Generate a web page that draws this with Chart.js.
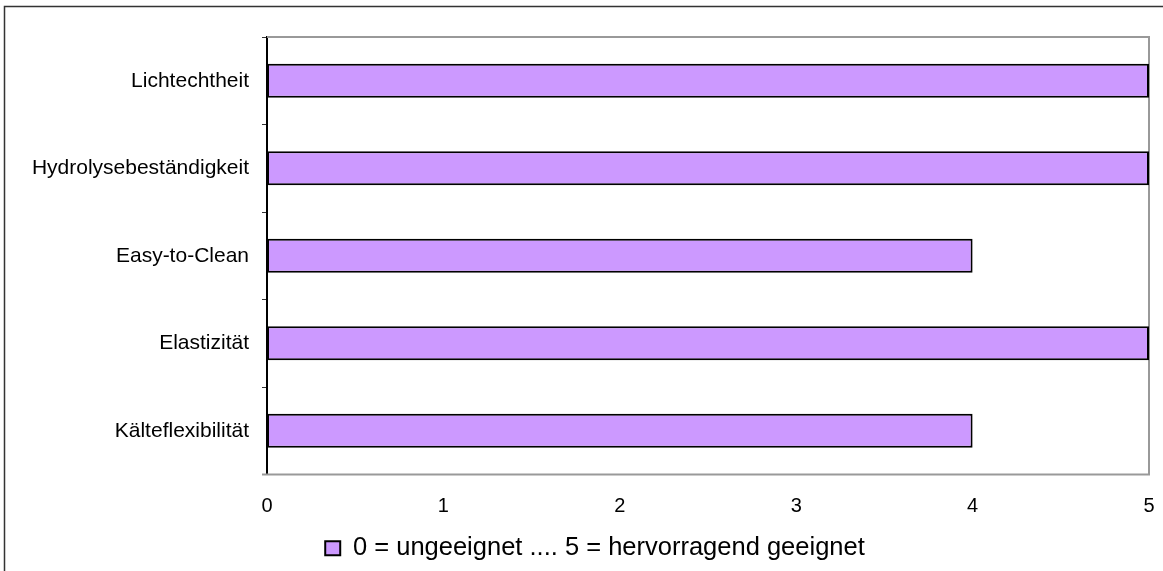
<!DOCTYPE html>
<html>
<head>
<meta charset="utf-8">
<script src="https://cdn.jsdelivr.net/npm/chart.js@4"></script>
<style>
  html, body { margin: 0; padding: 0; background: #fff; overflow: hidden; }
  #wrap { position: relative; width: 1163px; height: 571px; }
</style>
</head>
<body>
<div id="wrap"><canvas id="chart"></canvas></div>
<script>
// categories (top to bottom) and ratings
var categories = ["Lichtechtheit", "Hydrolysebeständigkeit", "Easy-to-Clean", "Elastizität", "Kälteflexibilität"];
var ratings = [5, 5, 4, 5, 4];
var seriesLabel = "0 = ungeeignet .... 5 = hervorragend geeignet";
var xTicks = [0, 1, 2, 3, 4, 5];

// frame around the whole chart + grey plot border
var framePlugin = {
    id: 'frame',
    beforeDatasetsDraw: function (chart) {
        var ctx = chart.ctx;
        var a = chart.chartArea;
        ctx.save();
        ctx.strokeStyle = '#999999';
        ctx.lineWidth = 2;
        ctx.beginPath();
        ctx.moveTo(a.left, a.top);
        ctx.lineTo(a.right, a.top);
        ctx.lineTo(a.right, a.bottom);
        ctx.lineTo(a.left - 5, a.bottom);
        ctx.stroke();
        ctx.restore();
    },
    afterDraw: function (chart) {
        var ctx = chart.ctx;
        ctx.save();
        ctx.strokeStyle = '#333333';
        ctx.lineWidth = 1.5;
        ctx.beginPath();
        ctx.moveTo(4.5, chart.height + 5);
        ctx.lineTo(4.5, 6.5);
        ctx.lineTo(chart.width + 5, 6.5);
        ctx.stroke();
        ctx.restore();
    }
};

var ctx = document.getElementById('chart').getContext('2d');
var chart = new Chart(ctx, {
    type: 'bar',
    data: {
        labels: categories,
        datasets: [{
            label: seriesLabel,
            data: ratings,
            backgroundColor: '#CC99FF',
            borderColor: '#000000',
            borderWidth: 2,
            borderSkipped: false,
            barPercentage: 0.39,
            categoryPercentage: 1
        }]
    },
    options: {
        indexAxis: 'y',
        responsive: true,
        maintainAspectRatio: false,
        animation: false,
        layout: {
            padding: { left: 27, top: 37, right: 0, bottom: 0 }
        },
        scales: {
            x: {
                min: 0,
                max: 5,
                afterBuildTicks: function (scale) {
                    scale.ticks = xTicks.map(function (v) { return { value: v }; });
                },
                afterFit: function (scale) {
                    scale.height = 55;
                    scale.paddingLeft = 0;
                    scale.paddingRight = 14;
                },
                grid: { display: false, drawTicks: false },
                border: { display: false },
                ticks: {
                    color: '#000',
                    padding: 20,
                    font: { family: 'Liberation Sans, Arial', size: 20 }
                }
            },
            y: {
                afterFit: function (scale) { scale.width = 240; },
                grid: {
                    offset: true,
                    drawOnChartArea: false,
                    tickLength: 5,
                    color: '#333333'
                },
                border: { display: true, color: '#000000', width: 2 },
                ticks: {
                    color: '#000',
                    padding: 13,
                    font: { family: 'Liberation Sans, Arial', size: 21 }
                }
            }
        },
        plugins: {
            legend: {
                position: 'bottom',
                labels: {
                    color: '#000',
                    boxWidth: 15,
                    boxHeight: 14,
                    padding: 6,
                    font: { family: 'Liberation Sans, Arial', size: 25.5 }
                }
            },
            tooltip: { enabled: false }
        }
    },
    plugins: [framePlugin]
});
</script>
</body>
</html>
